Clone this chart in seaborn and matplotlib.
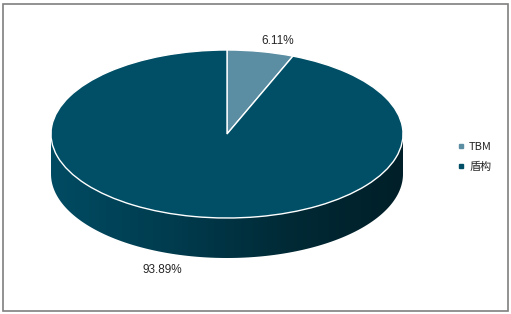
import numpy as np
import matplotlib
matplotlib.use("Agg")
import matplotlib.pyplot as plt
import seaborn as sns
from matplotlib.patches import Polygon, Rectangle
from matplotlib.lines import Line2D
from matplotlib.colors import LinearSegmentedColormap

# ---- data ----
categories = ["TBM", "盾构"]
values = [6.11, 93.89]
slice_colors = ["#5B8EA3", "#004F66"]

sns.set_theme(style="white")
plt.rcParams["font.family"] = ["Liberation Sans", "Noto Sans CJK SC", "DejaVu Sans"]

W, H = 511, 314
fig = plt.figure(figsize=(W / 100, H / 100), dpi=100)
fig.patch.set_facecolor("white")

# layout of the 3-D pie (pixels)
cx, cy, rx, ry, depth_px = 227, 134, 176, 84, 40
depth = depth_px / ry
ax = fig.add_axes([(cx - rx) / W, (H - (cy + ry + depth_px)) / H,
                   2 * rx / W, (2 * ry + depth_px) / H])

wedges, _ = ax.pie(values, colors=slice_colors, startangle=90, counterclock=False,
                   wedgeprops=dict(edgecolor="white", linewidth=1.0, zorder=3))

# side band of the disc with a horizontal gradient
t = np.linspace(np.pi, 2 * np.pi, 300)
verts = [(-1, 0)] + list(zip(np.cos(t), np.sin(t) - depth)) + [(1, 0)]
band = Polygon(verts, closed=True, facecolor="none", edgecolor="none", transform=ax.transData)
ax.add_patch(band)
cmap = LinearSegmentedColormap.from_list("side", ["#004B62", "#003C4F", "#002A36", "#001F28"])
grad = np.linspace(0, 1, 256).reshape(1, -1)
im = ax.imshow(grad, cmap=cmap, extent=(-1, 1, -1 - depth, 0), aspect="auto",
               zorder=1, interpolation="bilinear")
im.set_clip_path(band)

ax.set_aspect("auto")
ax.set_xlim(-1, 1)
ax.set_ylim(-1 - depth, 1)
ax.axis("off")

# percentage labels
total = sum(values)
label_pos = [(0.29, 1.107), (-0.369, -1.62)]
for v, (lx, ly) in zip(values, label_pos):
    ax.text(lx, ly, f"{v / total * 100:.2f}%", ha="center", va="center",
            fontsize=8.5, color="#262626", clip_on=False)

# legend
handles = [Line2D([], [], marker="s", ls="", color=c, markersize=3) for c in slice_colors]
leg = fig.legend(handles, categories, loc="center left",
                 bbox_to_anchor=(448 / W, 1 - 157 / H), frameon=False,
                 fontsize=8, handlelength=0.6, handletextpad=0.4, labelspacing=0.9)
for txt in leg.get_texts():
    txt.set_color("#262626")
    txt.set_family(["Noto Sans CJK SC", "DejaVu Sans"])

# outer border
fig.patches.append(Rectangle((2.5 / W, 3 / H), 505 / W, 307.5 / H, transform=fig.transFigure,
                             facecolor="none", edgecolor="#7F7F7F", linewidth=1.2))

fig.savefig("out.png", dpi=100)
